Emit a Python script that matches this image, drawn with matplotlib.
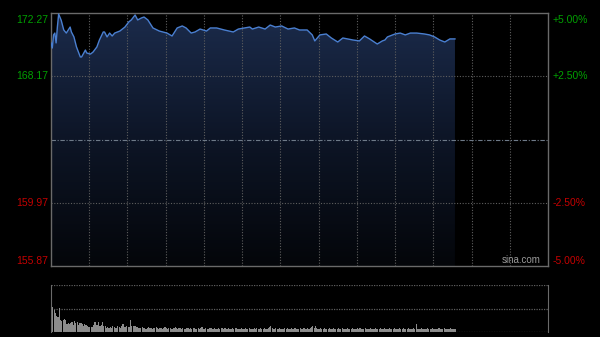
import numpy as np
import matplotlib
matplotlib.use("Agg")
import matplotlib.pyplot as plt
from matplotlib.colors import LinearSegmentedColormap
import matplotlib.transforms as mtransforms

plt.rcParams["font.family"] = ["Liberation Sans", "DejaVu Sans"]

# intraday price (minutes after the open)
minutes = [0, 1, 2, 3, 4, 5, 6, 8, 10, 12, 15, 16, 18, 20, 23, 24, 27, 28, 31, 33,
           36, 38, 41, 42, 44, 46, 48, 50, 54, 58, 61, 63, 66, 68, 71, 73, 76, 80,
           85, 91, 95, 99, 103, 106, 110, 113, 117, 122, 125, 130, 136, 143, 147,
           156, 158, 163, 168, 172, 176, 181, 186, 191, 195, 201, 205, 207, 211,
           216, 220, 225, 229, 237, 242, 246, 250, 256, 260, 262, 264, 270, 274,
           278, 282, 287, 293, 297, 301, 305, 309, 313, 317]
prices = [170.33, 170.00, 170.85, 170.97, 170.33, 171.36, 172.20, 171.80, 171.17, 170.97,
          171.36, 171.04, 170.72, 170.07, 169.42, 169.42, 169.87, 169.68, 169.61, 169.74,
          170.07, 170.52, 171.04, 171.04, 170.72, 170.97, 170.78, 170.97, 171.10, 171.36,
          171.69, 171.82, 172.14, 171.82, 171.95, 172.01, 171.82, 171.30, 171.10, 170.97,
          170.78, 171.30, 171.43, 171.30, 170.97, 171.04, 171.23, 171.10, 171.30, 171.30,
          171.17, 171.04, 171.23, 171.36, 171.23, 171.36, 171.23, 171.49, 171.36, 171.43,
          171.23, 171.30, 171.17, 171.17, 170.85, 170.46, 170.85, 170.91, 170.65, 170.39,
          170.65, 170.52, 170.46, 170.78, 170.59, 170.26, 170.46, 170.52, 170.72, 170.91,
          170.97, 170.85, 170.97, 170.97, 170.91, 170.85, 170.72, 170.52, 170.39, 170.59,
          170.59]

# per-minute volume (relative)
volume = [470, 250, 220, 190, 160, 150, 240, 120, 110, 120, 130, 120, 80, 90, 80, 90,
          100, 70, 110, 90, 100, 70, 90, 90, 80, 60, 80, 70, 60, 50, 50, 50, 50, 70,
          100, 70, 70, 100, 60, 70, 100, 60, 60, 40, 50, 40, 50, 40, 60, 50, 40, 40,
          60, 50, 40, 60, 80, 50, 50, 60, 50, 50, 120, 60, 60, 60, 60, 50, 40, 40,
          40, 50, 40, 40, 30, 40, 50, 40, 40, 30, 40, 40, 50, 40, 30, 40, 40, 30, 40, 50,
          40, 30, 40, 40, 30, 30, 40, 50, 40, 30, 40, 40, 30, 40, 30, 30, 40, 40, 30, 40,
          30, 40, 40, 30, 30, 40, 30, 40, 50, 30, 30, 40, 30, 30, 40, 40, 30, 30, 40, 30,
          30, 40, 30, 40, 40, 30, 40, 30, 30, 40, 30, 30, 40, 30, 40, 40, 30, 30, 30, 40,
          30, 30, 40, 30, 30, 40, 30, 30, 30, 40, 30, 40, 30, 30, 40, 30, 30, 40, 30, 30,
          40, 50, 60, 40, 30, 30, 40, 30, 30, 40, 30, 30, 30, 40, 30, 40, 30, 30, 40, 30,
          30, 40, 30, 30, 30, 40, 30, 30, 40, 30, 30, 40, 30, 40, 50, 60, 40, 60, 40, 30,
          30, 40, 30, 30, 40, 30, 30, 30, 40, 30, 30, 40, 30, 30, 30, 40, 30, 30, 40, 30,
          30, 30, 40, 30, 30, 30, 40, 30, 30, 30, 40, 30, 40, 30, 30, 30, 40, 30, 30, 30,
          40, 30, 30, 30, 40, 30, 30, 30, 40, 30, 30, 40, 30, 30, 30, 40, 30, 30, 30, 40,
          30, 30, 30, 40, 30, 30, 40, 30, 30, 30, 40, 30, 30, 30, 40, 30, 80, 30, 30, 30,
          40, 30, 30, 30, 30, 40, 30, 30, 30, 40, 30, 30, 30, 30, 40, 30, 30, 30, 40, 30,
          30, 30, 30, 40, 30, 30, 30, 30]

prev_close = 164.07
price_ticks = [172.27, 168.17, 159.97, 155.87]
pct_labels = ["+5.00%", "+2.50%", "-2.50%", "-5.00%"]
y_lo, y_hi = 155.87, 172.27
session_len = 390

green = "#00a000"
red = "#c40000"
grid_c = "#5e5e5e"
frame_c = "#6a6a6a"

W, H = 600, 337
fig = plt.figure(figsize=(W / 100, H / 100), dpi=100, facecolor="black")

ax = fig.add_axes([51 / W, (H - 266) / H, 497 / W, 253 / H], facecolor="black")
ax.set_xlim(0, session_len)
ax.set_ylim(y_lo, y_hi)
ax.set_xticks([])
ax.set_yticks([])
for s in ax.spines.values():
    s.set_color(frame_c)
    s.set_linewidth(1)

# grid (drawn over the area fill, under the line)
for m in range(30, session_len, 30):
    ax.axvline(m, color=grid_c, lw=0.8, ls=(0, (1, 1.5)), zorder=2.5)
for p in [168.17, 159.97]:
    ax.axhline(p, color=grid_c, lw=0.8, ls=(0, (1, 1.5)), zorder=2.5)
ax.axhline(prev_close, color="#6e7a88", lw=0.8, ls=(0, (4, 1.5, 1, 1.5)), zorder=2.5)

# gradient area under the line
cmap = LinearSegmentedColormap.from_list("fill", ["#04060a", "#0d1526", "#1b2b4b"])
grad = np.linspace(0, 1, 256).reshape(-1, 1)
im = ax.imshow(grad, extent=[0, session_len, y_lo, y_hi], origin="lower",
               aspect="auto", cmap=cmap, zorder=2)
xs = np.concatenate([[minutes[0]], minutes, [minutes[-1]]])
ys = np.concatenate([[y_lo], prices, [y_lo]])
poly = plt.Polygon(np.column_stack([xs, ys]), closed=True, transform=ax.transData,
                   facecolor="none", edgecolor="none")
ax.add_patch(poly)
im.set_clip_path(poly)

ax.plot(minutes, prices, color="#4a7fd0", lw=1.0, zorder=3)

# axis labels
trans_l = mtransforms.blended_transform_factory(fig.transFigure, ax.transData)
for i, (p, lab) in enumerate(zip(price_ticks, pct_labels)):
    col = green if p > prev_close else red
    va = "center"
    y = p
    if i == 0:
        va = "top"
        y = p - 0.12
    elif i == len(price_ticks) - 1:
        va = "bottom"
    ax.text(48 / W, y, f"{p:.2f}", transform=trans_l, ha="right", va=va,
            color=col, fontsize=7.5)
    ax.text(553 / W, y, lab, transform=trans_l, ha="left", va=va,
            color=col, fontsize=7.5)

ax.text(0.985, 0.005, "sina.com", transform=ax.transAxes, ha="right", va="bottom",
        color="#9a9a9a", fontsize=7, zorder=4)

# volume panel
vax = fig.add_axes([51 / W, (H - 332) / H, 497 / W, 47 / H], facecolor="black")
vax.set_xlim(-0.5, session_len - 0.5)
vax.set_ylim(0, max(volume))
vax.set_xticks([])
vax.set_yticks([])
vax.bar(np.arange(len(volume)), volume, width=0.9, color="#8c8c8c", zorder=2)
for side in ["top", "bottom"]:
    vax.spines[side].set_visible(False)
for side in ["left", "right"]:
    vax.spines[side].set_color(frame_c)
vax.axhline(max(volume), color=grid_c, lw=0.9, ls=(0, (1, 1)), zorder=1)
vax.axhline(max(volume) / 2, color=grid_c, lw=0.9, ls=(0, (1, 1)), zorder=1)
vax.axhline(0, color=grid_c, lw=0.9, ls=(0, (1, 1)), zorder=3)

fig.savefig("out.png", dpi=100, facecolor="black")
